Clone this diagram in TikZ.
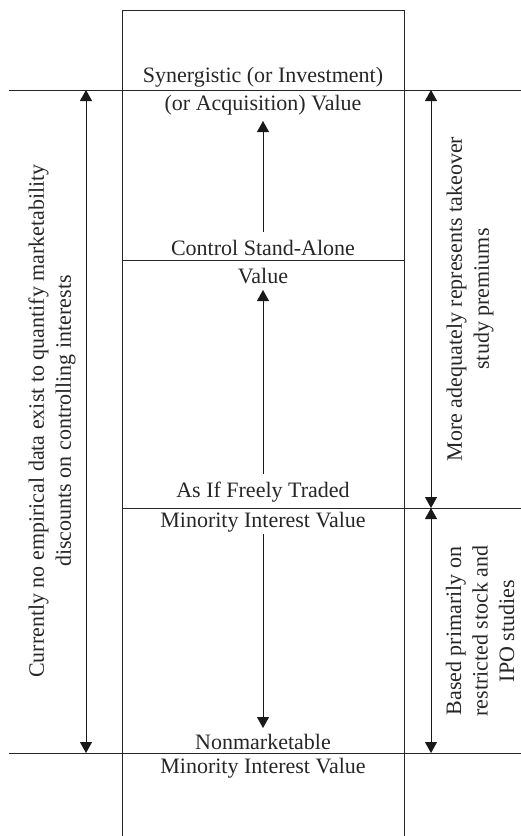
\documentclass[tikz,border=0pt]{standalone}
\usepackage{fontspec}
\setmainfont{Liberation Serif}
\usetikzlibrary{arrows.meta}
\begin{document}
\begin{tikzpicture}[x=1pt,y=-1pt,
  rule/.style={line width=0.8pt, black!85},
  arr/.style={line width=0.9pt, black!90, -{Triangle[width=12pt,length=11pt]}},
  darr/.style={line width=0.9pt, black!90, {Triangle[width=12pt,length=11pt]}-{Triangle[width=12pt,length=11pt]}},
  lbl/.style={font=\fontsize{22}{27}\selectfont, inner sep=0pt, anchor=base, text=black!85},
  side/.style={font=\fontsize{22}{27}\selectfont, inner sep=0pt, rotate=90, align=center, text=black!85}]
\useasboundingbox (0,0) rectangle (521,836);
% frame lines
\coordinate (bTL) at (122,10); \coordinate (bTR) at (404,10);
\coordinate (bBL) at (122,836); \coordinate (bBR) at (404,836);
\draw[rule] (bBL) -- (bTL) -- (bTR) -- (bBR);
\coordinate (h1a) at (9,90);    \coordinate (h1b) at (521,90);
\coordinate (h2a) at (122,260); \coordinate (h2b) at (404,260);
\coordinate (h3a) at (122,508); \coordinate (h3b) at (521,508);
\coordinate (h4a) at (9,753);   \coordinate (h4b) at (521,753);
\draw[rule] (h1a) -- (h1b);
\draw[rule] (h2a) -- (h2b);
\draw[rule] (h3a) -- (h3b);
\draw[rule] (h4a) -- (h4b);
% level labels
\node[lbl] (syn) at (263,82)  {Synergistic (or Investment)};
\node[lbl] (acq) at (263,110) {(or Acquisition) Value};
\node[lbl] (csa) at (263,255) {Control Stand-Alone};
\node[lbl] (csv) at (263,283) {Value};
\node[lbl] (aif) at (263,497) {As If Freely Traded};
\node[lbl] (miv) at (263,527) {Minority Interest Value};
\node[lbl] (nm)  at (263,749) {Nonmarketable};
\node[lbl] (nmv) at (263,773) {Minority Interest Value};
% center arrows
\coordinate (c1s) at (263,232); \coordinate (c1e) at (263,121);
\coordinate (c2s) at (263,474); \coordinate (c2e) at (263,290);
\coordinate (c3s) at (263,534); \coordinate (c3e) at (263,728);
\draw[arr] (c1s) -- (c1e);
\draw[arr] (c2s) -- (c2e);
\draw[arr] (c3s) -- (c3e);
% side arrows
\coordinate (l1) at (86,90);   \coordinate (l2) at (86,753);
\coordinate (r1) at (431,90);  \coordinate (r2) at (431,508); \coordinate (r3) at (431,753);
\draw[darr] (l1) -- (l2);
\draw[darr] (r1) -- (r2);
\draw[darr] (r2) -- (r3);
% side texts
\node[side] (lt) at (52,421) {Currently no empirical data exist to quantify marketability\\discounts on controlling interests};
\node[side] (rt1) at (470,299) {More adequately represents takeover\\study premiums};
\node[side, font=\fontsize{22}{26.5}\selectfont] (rt2) at (480,631) {Based primarily on\\restricted stock and\\IPO studies};
\end{tikzpicture}
\end{document}
